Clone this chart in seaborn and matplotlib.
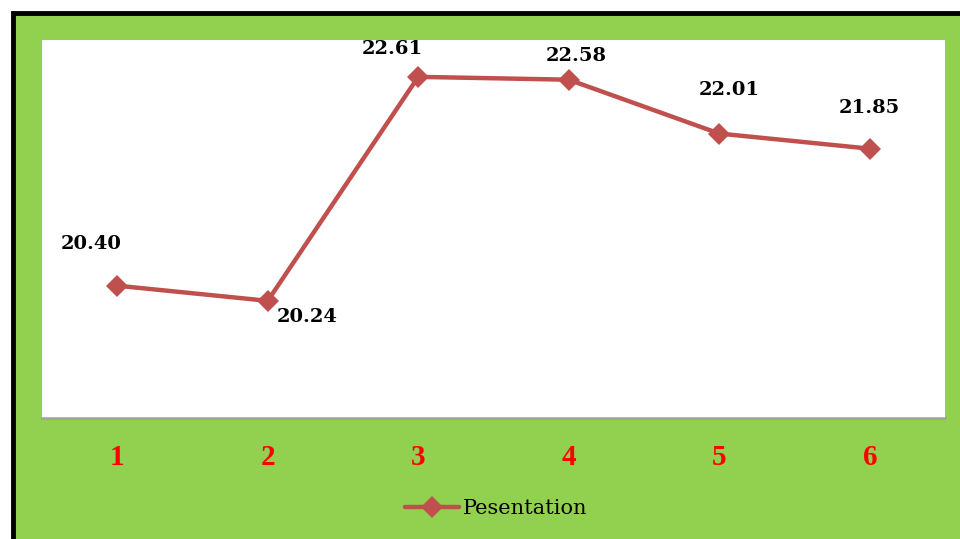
import matplotlib
matplotlib.use("Agg")
import matplotlib.pyplot as plt
import seaborn as sns
import pandas as pd
from matplotlib.patches import Rectangle
from matplotlib.lines import Line2D

categories = [1, 2, 3, 4, 5, 6]
values = [20.40, 20.24, 22.61, 22.58, 22.01, 21.85]
tick_labels = ["1", "2", "3", "4", "5", "6"]
series_name = "Pesentation"

df = pd.DataFrame({"x": categories, "y": values, "s": series_name})

sns.set_theme(style="white")
plt.rcParams["font.family"] = ["Liberation Serif", "DejaVu Serif"]
plt.rcParams["text.color"] = "black"

W, H = 960, 539
fig = plt.figure(figsize=(9.6, 5.39), dpi=100, facecolor="white")

# green frame with black border (extends past right/bottom edges)
fig.patches.append(Rectangle((13 / W, -0.05), (W - 13) / W + 0.05, (H - 13) / H + 0.05,
                             transform=fig.transFigure, facecolor="#92D050",
                             edgecolor="black", linewidth=3.5, zorder=-5))

ax = fig.add_axes([42 / W, (H - 418) / H, 903 / W, 378 / H])
ax.set_zorder(2)
ax.set_facecolor("white")

sns.lineplot(data=df, x="x", y="y", hue="s", palette=["#C0504D"], ax=ax,
             marker="D", markersize=11, linewidth=3.2, markeredgewidth=0,
             legend=False)

ax.set_xlim(0.5, 6.5)
ax.set_ylim(19, 23)
ax.set_xticks(categories)
ax.set_xticklabels(tick_labels, color="#FF0000", fontsize=21, fontweight="bold")
ax.tick_params(axis="x", length=0, pad=19)
ax.set_yticks([])
ax.set_xlabel("")
ax.set_ylabel("")
for s in ["top", "left", "right"]:
    ax.spines[s].set_visible(False)
ax.spines["bottom"].set_color("#A0A0A0")
ax.spines["bottom"].set_linewidth(1.8)

# data labels (offsets in points)
offsets = [(-19, 30), (28, -12), (-19, 20), (5, 17), (7, 31), (0, 29)]
for xv, yv, (dx, dy) in zip(categories, values, offsets):
    ax.annotate(f"{yv:.2f}", (xv, yv), xytext=(dx, dy), textcoords="offset points",
                ha="center", va="center", fontsize=14, fontweight="bold",
                color="black", family="DejaVu Serif", clip_on=False)

# legend
handle = Line2D([], [], color="#C0504D", linewidth=3.2, marker="D", markersize=11,
                markeredgewidth=0)
leg = fig.legend([handle], [series_name], loc="center", bbox_to_anchor=(496 / W, 1 - 509 / H),
                 frameon=False, prop={"family": "DejaVu Serif", "size": 15},
                 handlelength=2.6, handletextpad=0.2)
leg.set_zorder(3)
for t in leg.get_texts():
    t.set_color("black")

fig.savefig("out.png", dpi=100, facecolor="white")
